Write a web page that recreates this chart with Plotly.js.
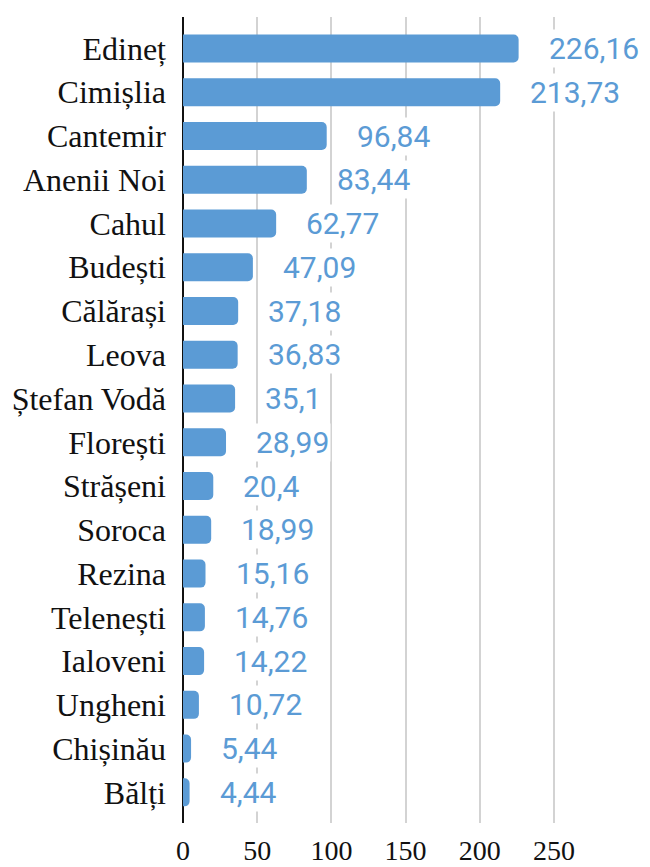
<!DOCTYPE html>
<html>
<head>
<meta charset="utf-8">
<script src="https://cdn.plot.ly/plotly-3.0.1.min.js"></script>
<style>html,body{margin:0;padding:0;background:#fff;}#chart{width:650px;height:867px;}</style>
</head>
<body>
<div id="chart"></div>
<script>
const categories = ["Edineț","Cimișlia","Cantemir","Anenii Noi","Cahul","Budești","Călărași","Leova","Ștefan Vodă","Florești","Strășeni","Soroca","Rezina","Telenești","Ialoveni","Ungheni","Chișinău","Bălți"];
const values = [226.16,213.73,96.84,83.44,62.77,47.09,37.18,36.83,35.1,28.99,20.4,18.99,15.16,14.76,14.22,10.72,5.44,4.44];
const tickValues = [0,50,100,150,200,250];

const labels = values.map(v => String(v).replace('.', ','));

const trace = {
  type: 'bar',
  orientation: 'h',
  x: values,
  y: categories,
  marker: {color: '#5b9bd5', cornerradius: 5},
  width: 0.64,
  hoverinfo: 'none'
};

const annotations = values.map((v, i) => ({
  x: v, y: categories[i], xref: 'x', yref: 'y',
  text: labels[i], showarrow: false,
  xanchor: 'left', yanchor: 'middle', xshift: 28,
  bgcolor: '#ffffff', borderpad: 1,
  font: {family: 'Roboto', size: 30, color: '#5b9bd5'}
}));

const layout = {
  width: 650, height: 867,
  margin: {l: 183, r: 0, t: 17, b: 44},
  paper_bgcolor: '#ffffff', plot_bgcolor: '#ffffff',
  showlegend: false,
  xaxis: {
    range: [0, 314.7],
    tickvals: tickValues,
    ticktext: tickValues.map(String),
    showgrid: true, gridcolor: '#d3d3d3', gridwidth: 2,
    zeroline: true, zerolinecolor: '#111111', zerolinewidth: 2,
    showline: false, ticks: '',
    tickfont: {family: 'Liberation Serif', size: 28, color: '#111111'},
    ticklabelstandoff: 8,
    fixedrange: true
  },
  yaxis: {
    type: 'category',
    range: [17.7, -0.72],
    showgrid: false, zeroline: false, showline: false, ticks: '',
    tickfont: {family: 'Liberation Serif', size: 32, color: '#111111'},
    ticklabelstandoff: 16,
    fixedrange: true
  },
  annotations: annotations
};

Plotly.newPlot('chart', [trace], layout, {displayModeBar: false, staticPlot: true});
</script>
</body>
</html>
